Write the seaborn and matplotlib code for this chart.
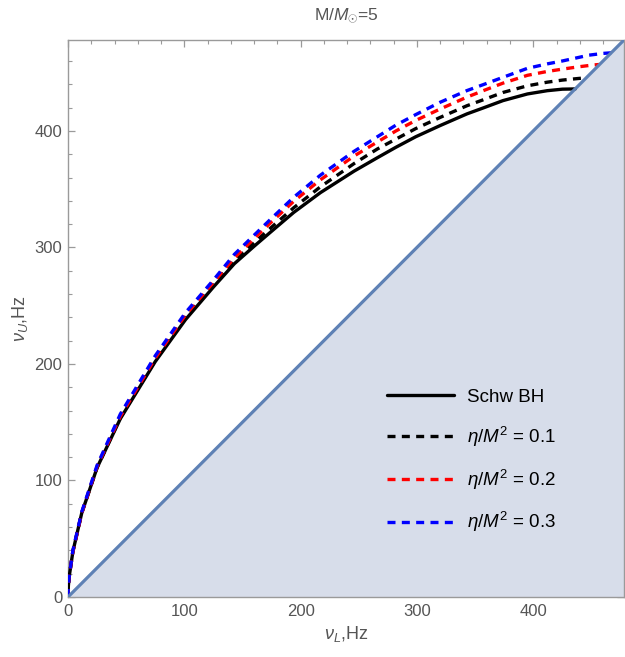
import matplotlib
matplotlib.use("Agg")
import matplotlib.pyplot as plt
import seaborn as sns
from matplotlib.ticker import MultipleLocator

# ---- data ----
base_L = [0, 0.09, 0.35, 1.1, 4.2, 11.8, 25, 45, 75, 101, 125, 143, 160, 174, 194, 217, 246, 266, 282,
          299, 320, 343, 357, 374, 395, 412]

schw_L = base_L + [425, 436]
schw_U = [0, 4, 10, 18, 39, 72, 111, 153, 202, 238, 266, 286, 301, 313, 330, 347, 365.5, 377, 386,
          395, 404.6, 414.6, 419.7, 426, 431.7, 434.5, 435.8, 436]

eta1_L = base_L + [425, 439, 445]
eta1_U = [0, 4, 10, 18, 39, 72, 111, 154, 203, 240, 268, 288.5, 304, 316.5, 334, 352, 372, 384.5, 393,
          402, 411.6, 421.6, 426.7, 433, 438.7, 441.8, 443.6, 445, 445.5]

eta2_L = base_L + [425, 439, 451, 457]
eta2_U = [0, 4, 10, 18, 39, 72, 112, 155, 205, 242, 270, 291, 307.5, 321, 339.5, 358, 378.5, 390.5, 400,
          409, 418.8, 429, 434.5, 441, 447.7, 451, 453, 455, 456.5, 457]

eta3_L = base_L + [425, 448, 460, 467]
eta3_U = [0, 4, 10, 18, 40, 73, 113, 157, 207, 244, 272, 294, 310.5, 324, 343, 362, 382.5, 395, 405,
          414, 424.6, 434.6, 439.7, 446, 453.7, 457.5, 460, 465, 466.5, 467]

diag_L = [0, 478]
diag_U = [0, 478]

labels = ["Schw BH", r"$\eta/M^2$ = 0.1", r"$\eta/M^2$ = 0.2", r"$\eta/M^2$ = 0.3"]
xticks = [0, 100, 200, 300, 400]
yticks = [0, 100, 200, 300, 400]

sns.set_style("ticks")
plt.rcParams['font.family'] = ['Liberation Sans', 'DejaVu Sans']
plt.rcParams['mathtext.fontset'] = 'custom'
plt.rcParams['mathtext.rm'] = 'Liberation Sans'
plt.rcParams['mathtext.it'] = 'Liberation Sans:italic'
plt.rcParams['mathtext.bf'] = 'Liberation Sans:bold'

fig = plt.figure(figsize=(6.25, 6.57), dpi=100)
ax = fig.add_axes([68/625, 60/657, 556/625, 557/657])

fill_col = "#d7ddea"
diag_col = "#5e81b5"
ax.fill_between(diag_L, 0, diag_U, color=fill_col, lw=0, zorder=1)
sns.lineplot(x=diag_L, y=diag_U, color=diag_col, lw=2.3, ax=ax, zorder=5)

dash = (0, (2.4, 1.9))
sns.lineplot(x=schw_L, y=schw_U, sort=False, color="black", lw=2.4, ax=ax, label=labels[0], zorder=3)
sns.lineplot(x=eta1_L, y=eta1_U, sort=False, color="black", lw=2.4, linestyle=dash, ax=ax, label=labels[1], zorder=3)
sns.lineplot(x=eta2_L, y=eta2_U, sort=False, color="red", lw=2.4, linestyle=dash, ax=ax, label=labels[2], zorder=3)
sns.lineplot(x=eta3_L, y=eta3_U, sort=False, color="blue", lw=2.4, linestyle=dash, ax=ax, label=labels[3], zorder=3)

ax.set_xlim(0, 478)
ax.set_ylim(0, 478)
ax.set_xticks(xticks)
ax.set_yticks(yticks)
ax.xaxis.set_minor_locator(MultipleLocator(20))
ax.yaxis.set_minor_locator(MultipleLocator(20))

frame_col = "#9a9a9a"
lab_col = "#555555"
for s in ax.spines.values():
    s.set_color(frame_col)
    s.set_linewidth(1.0)
ax.tick_params(which="both", direction="in", top=True, right=True, color=frame_col,
               labelcolor=lab_col, labelsize=12)
ax.tick_params(which="major", length=5, width=0.9)
ax.tick_params(which="minor", length=3, width=0.8)
ax.tick_params(axis="x", pad=5)
ax.tick_params(axis="y", pad=4)

ax.set_xlabel(r"$\nu_L$,Hz", fontsize=13, color=lab_col, labelpad=4)
ax.set_ylabel(r"$\nu_U$,Hz", fontsize=13, color=lab_col, labelpad=3)
ax.set_title(r"M/$M_{\odot}$=5", fontsize=12.5, color=lab_col, pad=15)

leg = ax.legend(loc="upper left", bbox_to_anchor=(0.573, 0.374), frameon=False,
                fontsize=13.5, handlelength=3.57, handletextpad=0.7, labelspacing=1.0,
                borderpad=0, borderaxespad=0)
for t in leg.get_texts():
    t.set_color("black")

fig.savefig("out.png", dpi=100)
